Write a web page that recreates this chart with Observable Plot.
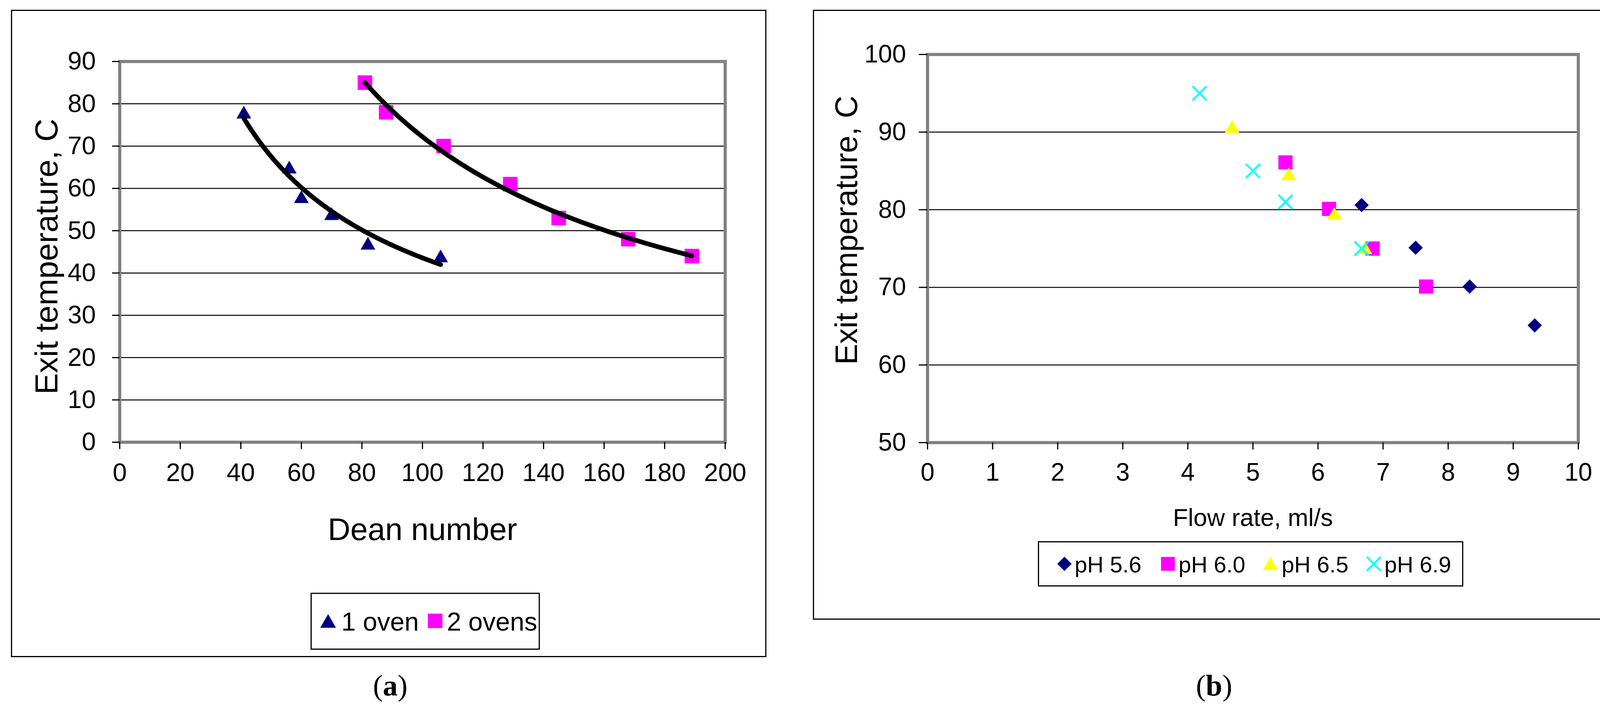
<!DOCTYPE html>
<html>
<head>
<meta charset="utf-8">
<script src="https://cdn.jsdelivr.net/npm/d3@7"></script>
<script src="https://cdn.jsdelivr.net/npm/@observablehq/plot@0.6"></script>
<style>
html,body{margin:0;padding:0;background:#fff;}
body{width:4157px;height:1826px;position:relative;overflow:hidden;font-family:"Liberation Sans",Arial,sans-serif;color:#000;}
.panel{position:absolute;border:3px solid #000;box-sizing:border-box;}
.abs{position:absolute;}
.legend{position:absolute;border:3px solid #000;box-sizing:border-box;background:#fff;}
.caption{position:absolute;font-family:"Liberation Serif","Times New Roman",serif;font-size:76px;transform:translate(-50%,-50%);white-space:nowrap;line-height:1;}
.ltext{position:absolute;white-space:nowrap;transform:translateY(-50%);line-height:1;}
.lsym{position:absolute;overflow:visible;}
</style>
</head>
<body>
<div class="panel" style="left:28px;top:25px;width:1934px;height:1658px"></div>
<div class="panel" style="left:2081px;top:25px;width:2046px;height:1562px"></div>
<div id="chartA" class="abs" style="left:0px;top:0px"></div>
<div id="chartB" class="abs" style="left:2050px;top:0px"></div>
<div id="legendA" class="legend" style="left:795px;top:1518px;width:587px;height:146px"></div>
<div id="legendB" class="legend" style="left:2657px;top:1386px;width:1089px;height:116px"></div>
<div class="caption" style="left:999px;top:1755px">(<b>a</b>)</div>
<div class="caption" style="left:3108px;top:1755px">(<b>b</b>)</div>
<script>
// ---------- Panel (a) data ----------
const oneOvenDean = [41, 56, 60, 70, 82, 106];
const oneOvenTemp = [78, 65, 58, 54, 47, 44];
const twoOvensDean = [81, 88, 107, 129, 145, 168, 189];
const twoOvensTemp = [85, 78, 70, 61, 53, 48, 44];
const xTicksA = [0, 20, 40, 60, 80, 100, 120, 140, 160, 180, 200];
const yTicksA = [0, 10, 20, 30, 40, 50, 60, 70, 80, 90];
const yGridA = [10, 20, 30, 40, 50, 60, 70, 80];
const seriesNamesA = ["1 oven", "2 ovens"];
const xTitleA = "Dean number";
const yTitleA = "Exit temperature, C";

// ---------- Panel (b) data ----------
const ph56Flow = [6.67, 7.5, 8.33, 9.33];
const ph56Temp = [80.6, 75.1, 70.1, 65.1];
const ph60Flow = [5.5, 6.17, 6.84, 7.66];
const ph60Temp = [86.1, 80.1, 75.0, 70.1];
const ph65Flow = [4.68, 5.55, 6.25, 6.72];
const ph65Temp = [90.7, 84.6, 79.5, 75.1];
const ph69Flow = [4.18, 5.0, 5.5, 6.67];
const ph69Temp = [95.0, 85.0, 81.0, 75.0];
const xTicksB = [0, 1, 2, 3, 4, 5, 6, 7, 8, 9, 10];
const yTicksB = [50, 60, 70, 80, 90, 100];
const yGridB = [60, 70, 80, 90];
const seriesNamesB = ["pH 5.6", "pH 6.0", "pH 6.5", "pH 6.9"];
const xTitleB = "Flow rate, ml/s";
const yTitleB = "Exit temperature, C";

// ---------- helpers ----------
const zip = (xs, ys) => xs.map((x, i) => ({x, y: ys[i]}));
// Power-law trendline (least squares in log-log space), as the spreadsheet does
function powerFit(xs, ys, n = 100) {
  const lx = xs.map(Math.log), ly = ys.map(Math.log);
  const mx = d3.mean(lx), my = d3.mean(ly);
  const b = d3.sum(lx, (v, i) => (v - mx) * (ly[i] - my)) / d3.sum(lx, v => (v - mx) ** 2);
  const a = Math.exp(my - b * mx);
  const [x0, x1] = d3.extent(xs);
  return d3.range(n + 1).map(i => { const x = x0 + (x1 - x0) * i / n; return {x, y: a * Math.pow(x, b)}; });
}
const fmt = d => String(d);

const navy = "#000080", magenta = "#FF00FF", yellow = "#FFFF00", cyan = "#00FFFF";
const baseStyle = {fontFamily: "'Liberation Sans', Arial, sans-serif", fontSize: "65px", color: "#000", background: "transparent", overflow: "visible"};

// ---------- Plot (a) ----------
const oneOven = zip(oneOvenDean, oneOvenTemp);
const twoOvens = zip(twoOvensDean, twoOvensTemp);
const plotA = Plot.plot({
  width: 2000, height: 1400,
  marginLeft: 306, marginRight: 144, marginTop: 157, marginBottom: 268,
  x: {domain: [0, 200]},
  y: {domain: [0, 90]},
  style: baseStyle,
  marks: [
    Plot.gridY(yGridA, {stroke: "#000", strokeOpacity: 1, strokeWidth: 2.5}),
    Plot.frame({stroke: "#808080", strokeWidth: 8}),
    Plot.axisY(yTicksA, {tickSize: 19, tickPadding: 42, strokeWidth: 3, label: null, fontSize: 65, tickFormat: fmt}),
    Plot.axisX(xTicksA, {tickSize: 18, tickPadding: 35, strokeWidth: 3, label: null, fontSize: 65, tickFormat: fmt}),
    Plot.dot(oneOven, {x: "x", y: "y", symbol: "triangle", r: 14, fill: navy, dy: 5}),
    Plot.dot(twoOvens, {x: "x", y: "y", symbol: "square", r: 21, fill: magenta}),
    Plot.line(powerFit(oneOvenDean, oneOvenTemp), {x: "x", y: "y", stroke: "#000", strokeWidth: 12, strokeLinecap: "round", strokeLinejoin: "round"}),
    Plot.line(powerFit(twoOvensDean, twoOvensTemp), {x: "x", y: "y", stroke: "#000", strokeWidth: 12, strokeLinecap: "round", strokeLinejoin: "round"}),
    Plot.text([xTitleA], {frameAnchor: "bottom", dy: 225, fontSize: 80, textAnchor: "middle", lineAnchor: "middle"}),
    Plot.text([yTitleA], {frameAnchor: "left", dx: -186, dy: 12, rotate: -90, fontSize: 82, textAnchor: "middle", lineAnchor: "middle"})
  ]
});
document.getElementById("chartA").append(plotA);

// ---------- Plot (b) ----------
const plotB = Plot.plot({
  width: 2107, height: 1400,
  marginLeft: 324, marginRight: 117, marginTop: 139, marginBottom: 267,
  x: {domain: [0, 10]},
  y: {domain: [50, 100]},
  style: baseStyle,
  marks: [
    Plot.gridY(yGridB, {stroke: "#000", strokeOpacity: 1, strokeWidth: 2.5}),
    Plot.frame({stroke: "#808080", strokeWidth: 8}),
    Plot.axisY(yTicksB, {tickSize: 22, tickPadding: 33, strokeWidth: 3, label: null, fontSize: 64, tickFormat: fmt}),
    Plot.axisX(xTicksB, {tickSize: 18, tickPadding: 34, strokeWidth: 3, label: null, fontSize: 64, tickFormat: fmt}),
    Plot.dot(zip(ph56Flow, ph56Temp), {x: "x", y: "y", symbol: "diamond2", r: 16.5, fill: navy}),
    Plot.dot(zip(ph60Flow, ph60Temp), {x: "x", y: "y", symbol: "square", r: 20.5, fill: magenta}),
    Plot.dot(zip(ph65Flow, ph65Temp), {x: "x", y: "y", symbol: "triangle", r: 14, fill: yellow, dy: 5}),
    Plot.dot(zip(ph69Flow, ph69Temp), {x: "x", y: "y", symbol: "times", r: 16.5, fill: "none", stroke: cyan, strokeWidth: 5}),
    Plot.text([xTitleB], {frameAnchor: "bottom", dy: 193, fontSize: 63, textAnchor: "middle", lineAnchor: "middle"}),
    Plot.text([yTitleB], {frameAnchor: "left", dx: -206, dy: -47, rotate: -90, fontSize: 80, textAnchor: "middle", lineAnchor: "middle"})
  ]
});
document.getElementById("chartB").append(plotB);

// ---------- Legends ----------
function symbolSvg(type, r, fill, stroke, sw) {
  const size = Math.PI * r * r;
  const map = {triangle: d3.symbolTriangle, square: d3.symbolSquare, diamond2: d3.symbolDiamond2, times: d3.symbolTimes};
  const s = 80;
  const svg = d3.create("svg").attr("width", s).attr("height", s).attr("viewBox", `${-s/2} ${-s/2} ${s} ${s}`).attr("class", "lsym");
  svg.append("path").attr("d", d3.symbol(map[type], size)()).attr("fill", fill).attr("stroke", stroke || "none").attr("stroke-width", sw || 0);
  return svg.node();
}
function addItem(container, box, cx, cy, sym, textX, textY, label, fontSize) {
  const el = document.getElementById(container);
  const node = symbolSvg(...sym);
  node.style.left = (cx - box.left - 3 - 40) + "px";
  node.style.top = (cy - box.top - 3 - 40) + "px";
  el.append(node);
  const t = document.createElement("div");
  t.className = "ltext";
  t.style.left = (textX - box.left - 3) + "px";
  t.style.top = (textY - box.top - 3) + "px";
  t.style.fontSize = fontSize + "px";
  t.textContent = label;
  el.append(t);
}
const boxA = {left: 795, top: 1518};
addItem("legendA", boxA, 840, 1596, ["triangle", 15, navy], 874, 1592, seriesNamesA[0], 66);
addItem("legendA", boxA, 1114, 1590, ["square", 21, magenta], 1144, 1592, seriesNamesA[1], 66);
const boxB = {left: 2657, top: 1386};
addItem("legendB", boxB, 2725, 1444, ["diamond2", 16.5, navy], 2751, 1446, seriesNamesB[0], 58);
addItem("legendB", boxB, 2990, 1444, ["square", 20, magenta], 3017, 1446, seriesNamesB[1], 58);
addItem("legendB", boxB, 3252, 1449, ["triangle", 14, yellow], 3281, 1446, seriesNamesB[2], 58);
addItem("legendB", boxB, 3517, 1444, ["times", 16.5, "none", cyan, 5], 3544, 1446, seriesNamesB[3], 58);
</script>
</body>
</html>
